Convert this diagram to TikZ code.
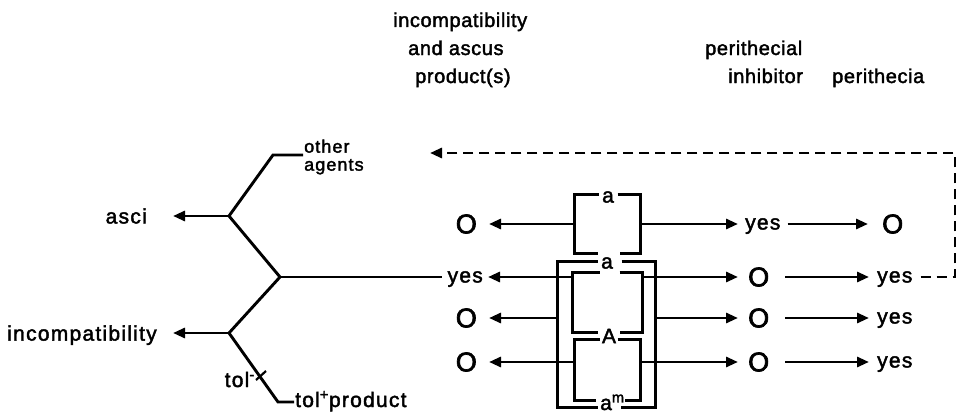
\documentclass[tikz,border=0pt]{standalone}
\usepackage{fontspec}
\setmainfont{Liberation Sans}[FakeBold=2]
\newfontfamily\hdrfont{Liberation Sans}[LetterSpace=3,FakeBold=2]
\newfontfamily\labfont{Liberation Sans}[LetterSpace=6,FakeBold=2]
\newfontfamily\zerofont{Liberation Sans}[FakeBold=2.5]
\usetikzlibrary{arrows.meta}
\tikzset{
  hdr/.style={font=\hdrfont\fontsize{20}{22}\selectfont, inner sep=0pt},
  lab/.style={font=\labfont\fontsize{21}{16}\selectfont, inner sep=0pt},
  yesl/.style={lab, text height=11pt, text depth=0pt},
  zero/.style={font=\zerofont\fontsize{27}{30}\selectfont, inner ysep=0pt},
  boxn/.style={inner sep=0pt},
  ln/.style={line width=2.9pt},
  arr/.style={ln, -{Triangle[length=12pt,width=10pt]}},
  dsh/.style={line width=2.9pt, dash pattern=on 10pt off 6pt, -{Triangle[length=12pt,width=10pt]}},
}
\newcommand\mygapbox[5]{%
  \draw[ln] ([xshift=-#2]#1.north) -- (#1.north west) -- (#1.south west) -- ([xshift=-#4]#1.south);
  \draw[ln] ([xshift=#3]#1.north) -- (#1.north east) -- (#1.south east) -- ([xshift=#5]#1.south);}
\begin{document}
\begin{tikzpicture}[x=1pt,y=-1pt]
\path[use as bounding box] (0,0) rectangle (959,415);

% headers
\node[hdr, anchor=base west] (h1) at (393,27) {incompatibility};
\node[hdr, anchor=base west] (h2) at (408,55) {and ascus};
\node[hdr, anchor=base west] (h3) at (415,83) {product(s)};
\node[hdr, anchor=base west] (h4) at (705,55) {perithecial};
\node[hdr, anchor=base west] (h5) at (728,83) {inhibitor};
\node[hdr, anchor=base west] (h6) at (832,83) {perithecia};

% left tree
\coordinate (oaK) at (273,155);
\coordinate (f1) at (229,216);
\coordinate (fm) at (280,277);
\coordinate (f2) at (229,333);
\coordinate (tolK) at (278,402);
\node[lab, font=\labfont\fontsize{18}{18}\selectfont, align=left, anchor=west, inner sep=1pt] (oth) at (303,157) {other\\agents};
\node[lab, anchor=east, inner xsep=26pt] (asci) at (173,216) {asci};
\node[lab, anchor=east, inner xsep=16pt, text depth=0pt] (inc) at (173,333) {incompatibility};
\node[lab, anchor=base east] (tolm) at (255,387) {tol\textsuperscript{-}};
\node[lab, anchor=base west, inner xsep=1pt] (tolp) at (294,407) {tol\textsuperscript{+}product};

% boxes
\node[boxn, minimum width=65pt, minimum height=58pt] (tb) at (607.5,224) {};
\node[boxn, minimum width=97pt, minimum height=145pt] (ob) at (606.5,334.5) {};
\node[boxn, minimum width=69pt, minimum height=59pt] (b1) at (607.5,302.5) {};
\node[boxn, minimum width=65pt, minimum height=60pt] (b2) at (607.5,370) {};
\node[lab] (la1) at (608,197) {a};
\node[lab] (la2) at (607,263) {a};
\node[lab] (lA) at (609,336) {A};
\node[lab, anchor=base west] (lam) at (600,410) {a\textsuperscript{m}};
\mygapbox{tb}{9pt}{10pt}{10pt}{12pt}
\mygapbox{ob}{9pt}{15pt}{9pt}{14pt}
\mygapbox{b1}{8pt}{12pt}{10pt}{12pt}
\mygapbox{b2}{8pt}{10pt}{12pt}{17pt}

% row labels
\node[zero, anchor=east, inner xsep=12pt] (o1L) at (489,224) {O};
\node[yesl, anchor=east, inner xsep=5pt] (y2L) at (488,277) {yes};
\node[zero, anchor=east, inner xsep=12pt] (o3L) at (489,318) {O};
\node[zero, anchor=east, inner xsep=12pt] (o4L) at (489,362) {O};

\node[yesl, anchor=west, inner xsep=7pt] (y1M) at (738,224) {yes};
\node[zero, anchor=west, inner xsep=10pt] (o2M) at (738,277) {O};
\node[zero, anchor=west, inner xsep=10pt] (o3M) at (738,318) {O};
\node[zero, anchor=west, inner xsep=10pt] (o4M) at (738,362) {O};

\node[zero, anchor=west, inner xsep=14pt] (o1R) at (868,224) {O};
\node[yesl, anchor=west, inner xsep=8pt] (y2R) at (869,277) {yes};
\node[yesl, anchor=west, inner xsep=8pt] (y3R) at (869,318) {yes};
\node[yesl, anchor=west, inner xsep=8pt] (y4R) at (869,362) {yes};

% tree lines
\draw[ln] (oaK -| oth.west) -- (oaK) -- (f1) -- (fm) -- (f2) -- (tolK) -- (tolK -| tolp.west);
\draw[ln] (fm) -- (y2L);
\draw[arr] (f1) -- (asci);
\draw[arr] (f2) -- (inc);
\draw[line width=2.2pt] (256,380) -- (266,371);

% row connectors
\draw[arr] (tb.west |- o1L) -- (o1L);
\draw[arr] (tb.east |- y1M) -- (y1M);
\draw[arr] (y1M) -- (o1R);

\draw[arr] (b1.west |- y2L) -- (y2L);
\draw[arr] (b1.east |- o2M) -- (o2M);
\draw[arr, shorten <=6pt] (o2M) -- (y2R);

\draw[arr] (ob.west |- o3L) -- (o3L);
\draw[arr] (ob.east |- o3M) -- (o3M);
\draw[arr, shorten <=6pt] (o3M) -- (y3R);

\draw[arr] (b2.west |- o4L) -- (o4L);
\draw[arr] (b2.east |- o4M) -- (o4M);
\draw[arr, shorten <=6pt] (o4M) -- (y4R);

% feedback
\coordinate (fbR) at (955,153);
\coordinate (fbE) at (430,153);
\draw[dsh] (y2R.east) -| (fbR) -- (fbE);
\end{tikzpicture}
\end{document}
